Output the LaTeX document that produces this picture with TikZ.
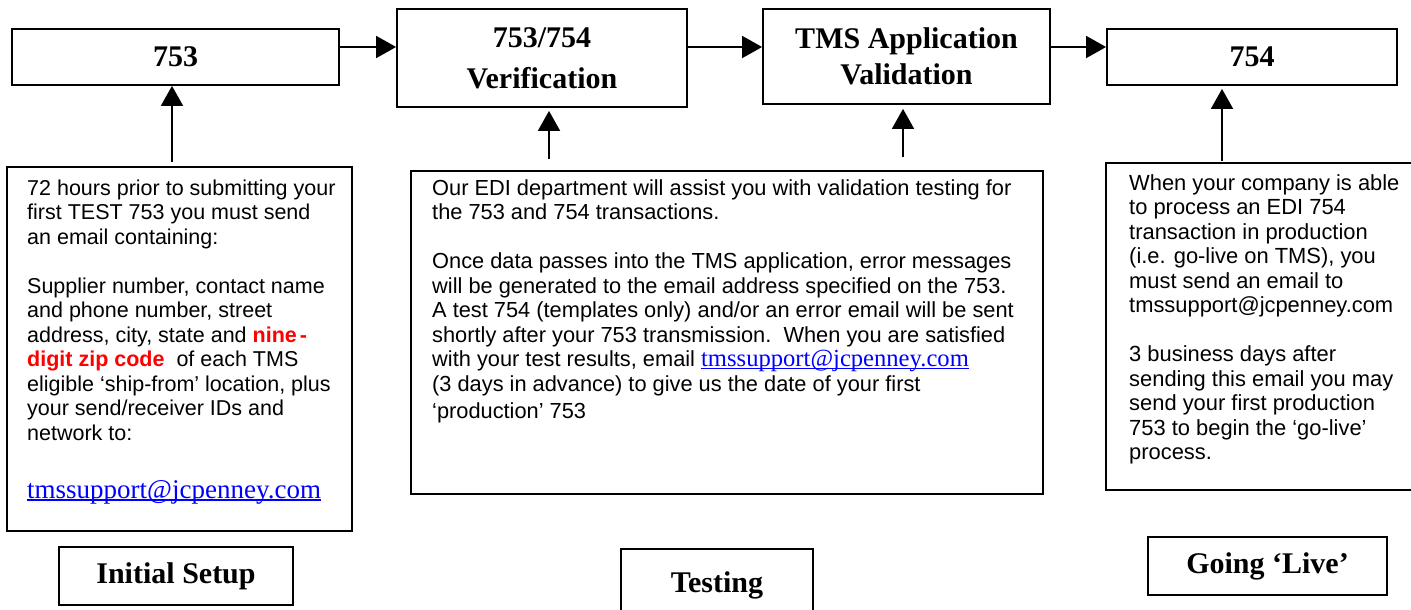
\documentclass[tikz,border=0pt]{standalone}
\usepackage{fontspec}
\setmainfont{Liberation Serif}
\newfontfamily\bodyfont{Liberation Sans}
\newfontfamily\serifface{Liberation Serif}
\usetikzlibrary{arrows.meta}
\definecolor{linkblue}{RGB}{0,0,255}
\definecolor{alertred}{RGB}{255,0,0}

% underlined blue e-mail address in the serif face, size given as argument
\newsavebox\mailbox
\newcommand\mailaddr[1]{{\serifface\fontsize{#1}{24.5}\selectfont\color{linkblue}%
  \sbox\mailbox{tmssupport@jcpenney.com}%
  \leavevmode\rlap{\usebox\mailbox}\vrule width\wd\mailbox height -1.3pt depth 2.5pt}}

\tikzset{
  box/.style={draw, line width=1.8pt, inner sep=0pt},
  title/.style={font=\serifface\bfseries\fontsize{30}{41}\selectfont, align=center},
  body/.style={inner sep=0pt, anchor=base west,
    font=\bodyfont\fontsize{#1}{24.5}\selectfont},
  body/.default=21.5,
  flow/.style={line width=1.8pt, -{Triangle[length=20pt,width=22pt]}},
}

\begin{document}
\begin{tikzpicture}[x=1pt,y=-1pt]
\useasboundingbox (0,0) rectangle (1411,610);

% process boxes along the top
\node[box, title, minimum width=327pt, minimum height=56pt] (b753) at (175.5,57) {753};
\node[box, title, minimum width=290pt, minimum height=98pt] (bver) at (542,58)
  {753/754\\Verification};
\node[box, title, font=\serifface\bfseries\fontsize{30}{36}\selectfont,
  minimum width=287pt, minimum height=95pt] (btms) at (906.5,56.5)
  {TMS Application\\Validation};
\node[box, title, minimum width=290pt, minimum height=56pt] (b754) at (1252,57) {754};

% row of horizontal arrows
\coordinate (row) at (0,47);
\draw[flow] (b753.east |- row) -- (bver.west |- row);
\draw[flow] (bver.east |- row) -- (btms.west |- row);
\draw[flow] (btms.east |- row) -- (b754.west |- row);

% description boxes
\node[box, minimum width=345pt, minimum height=364pt] (lbox) at (179.5,349) {};
\node[box, minimum width=632pt, minimum height=323pt] (mbox) at (727,332.5) {};
\node[box, minimum width=310pt, minimum height=327pt] (rbox) at (1261,326.5) {};

% phase labels
\node[box, title, minimum width=234pt, minimum height=58pt] (bsetup) at (176,576) {Initial Setup};
\node[box, title, minimum width=192pt, minimum height=72pt] (btest) at (717,585) {Testing};
\node[box, title, minimum width=239pt, minimum height=58pt] (blive) at (1267.5,566) {Going ‘Live’};

% upward arrows from the descriptions
\draw[flow, shorten <=4pt] ([xshift=-3.5pt]lbox.north -| b753.south) -- ([xshift=-3.5pt]b753.south);
\draw[flow, shorten <=11pt, shorten >=3pt] ([xshift=7pt]mbox.north -| bver.south) -- ([xshift=7pt]bver.south);
\draw[flow, shorten <=13pt, shorten >=4pt] ([xshift=-3.5pt]mbox.north -| btms.south) -- ([xshift=-3.5pt]btms.south);
\draw[flow, shorten <=1pt, shorten >=3pt] ([xshift=-30pt]rbox.north -| b754.south) -- ([xshift=-30pt]b754.south);

% texts
\node[body] (ltext) at (27,195) {\parbox[t]{340pt}{\raggedright
72 hours prior to submitting your\\
first TEST 753 you must send\\
an email containing:\\[24.5pt]
Supplier number, contact name\\
and phone number, street\\
address, city, state and \textcolor{alertred}{\bfseries nine\kern3pt-}\\
\textcolor{alertred}{\bfseries digit zip code}\ \ of each TMS\\
eligible ‘ship-from’ location, plus\\
your send/receiver IDs and\\
network to:}};
\node[inner sep=0pt, anchor=base west] (lmail) at (27,498) {\mailaddr{27}};

\node[body=21.8] (mtext) at (432,195) {\parbox[t]{620pt}{\raggedright
Our EDI department will assist you with validation testing for\\
the 753 and 754 transactions.\\[24.5pt]
Once data passes into the TMS application, error messages\\
will be generated to the email address specified on the 753.\\
A test 754 (templates only) and/or an error email will be sent\\
shortly after your 753 transmission.\ \ When you are satisfied\\
with your test results, email \mailaddr{24.6}\\
(3 days in advance) to give us the date of your first\\[3pt]
‘production’ 753}};

\node[body=21.9] (rtext) at (1129,190) {\parbox[t]{290pt}{\raggedright
When your company is able\\
to process an EDI 754\\
transaction in production\\
(i.e. go-live on TMS), you\\
must send an email to\\
tmssupport@jcpenney.com\\[24.5pt]
3 business days after\\
sending this email you may\\
send your first production\\
753 to begin the ‘go-live’\\
process.}};
\end{tikzpicture}
\end{document}
